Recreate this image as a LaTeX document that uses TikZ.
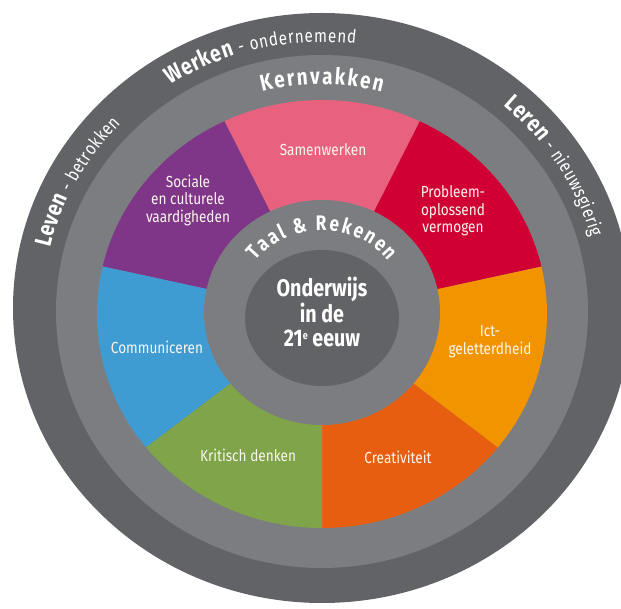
\documentclass[tikz,border=0pt]{standalone}
\usepackage{fontspec}
\setmainfont{Fira Sans}[FakeStretch=0.85]
\newfontfamily\ringfont{Fira Sans}[FakeStretch=0.82]
\newfontfamily\centerfont{Fira Sans}[FakeStretch=0.82]
\usetikzlibrary{calc}
\definecolor{ringdark}{HTML}{626366}
\definecolor{ringlight}{HTML}{7C7D80}
\definecolor{wpink}{HTML}{E8617F}
\definecolor{wred}{HTML}{D10034}
\definecolor{worange}{HTML}{F29400}
\definecolor{wdorange}{HTML}{E85E10}
\definecolor{wgreen}{HTML}{7FA449}
\definecolor{wblue}{HTML}{3F9CD2}
\definecolor{wpurple}{HTML}{7F3688}
\definecolor{lbltext}{HTML}{FBF6EE}
\newcommand\wedgefill[3]{\fill[#3, shift={(Cc)}] (0,0) -- (#1:225 and 214) arc[start angle=#1, end angle=#2, x radius=225, y radius=214] -- cycle;}
\newcommand\B{\ringfont\bfseries\fontsize{23.5}{23.5}\selectfont}
\newcommand\Sm{\ringfont\mdseries\fontsize{18.5}{18.5}\selectfont}
\newcommand\K{\ringfont\bfseries\fontsize{23}{23}\selectfont}
\newcommand\T{\ringfont\bfseries\fontsize{21}{21}\selectfont}
\newlength\arcw
\newcommand\measurechar[1]{\pgfinterruptpicture\settowidth{\arcw}{#1}\global\arcw=\arcw\endpgfinterruptpicture}
% #1 centre, #2 x radius, #3 y radius, #4 centre angle, #5 extra letter spacing, #6 list of characters
\newcommand\arctext[6]{%
  \gdef\arctotal{0}%
  \foreach \ch in {#6}{%
    \measurechar{\ch}%
    \pgfmathsetmacro\arctmp{\arctotal+\arcw+#5}%
    \xdef\arctotal{\arctmp}%
  }%
  \pgfmathsetmacro\arcr{(#2+#3)/2}%
  \xdef\arcrad{\arcr}%
  \gdef\arcpos{0}%
  \foreach \ch in {#6}{%
    \measurechar{\ch}%
    \pgfmathsetmacro\arcmid{\arcpos+(\arcw+#5)/2}%
    \pgfmathsetmacro\arcang{#4+(\arctotal/2-\arcmid)/\arcrad*180/pi}%
    \node[arcchar, rotate=\arcang-90] at ($(#1)+(\arcang:#2 and #3)$) {\ch};
    \pgfmathsetmacro\arctmp{\arcpos+\arcw+#5}%
    \xdef\arcpos{\arctmp}%
  }%
}
\tikzset{
  arcchar/.style={text=white, inner sep=0pt, anchor=base},
  lbl/.style={text=lbltext, font=\fontsize{16}{17.5}\selectfont, align=center, inner sep=0pt},
  centertext/.style={text=white, font=\centerfont\bfseries\fontsize{24}{24.5}\selectfont, align=center, inner sep=0pt}
}
\begin{document}
\begin{tikzpicture}[x=1pt,y=1pt]
\useasboundingbox (0,0) rectangle (621,608);
\fill[white] (0,0) rectangle (621,608);
\coordinate (Co) at (322,300);
\coordinate (Cl) at (322,296.5);
\coordinate (Cc) at (322,294);
\coordinate (Ci) at (322,295.5);
\coordinate (Cd) at (322,290);
% rings
\fill[ringdark] (Co) ellipse [x radius=309, y radius=295];
\fill[ringlight] (Cl) ellipse [x radius=266, y radius=256.5];
% wedges
\wedgefill{-90}{-38.571}{wdorange}
\wedgefill{-38.571}{12.857}{worange}
\wedgefill{12.857}{64.286}{wred}
\wedgefill{64.286}{115.714}{wpink}
\wedgefill{115.714}{167.143}{wpurple}
\wedgefill{167.143}{218.571}{wblue}
\wedgefill{218.571}{270}{wgreen}
% inner circles
\fill[ringlight] (Ci) ellipse [x radius=118, y radius=112.5];
\fill[ringdark] (Cd) ellipse [x radius=77, y radius=68];
% curved texts
\arctext{Co}{279}{266}{103}{0.6}{\B W,\B e,\B r,\B k,\B e,\B n,\Sm~,\Sm -,\Sm~,\Sm o,\Sm n,\Sm d,\Sm e,\Sm r,\Sm n,\Sm e,\Sm m,\Sm e,\Sm n,\Sm d}
\arctext{Co}{279}{266}{151.5}{0.6}{\B L,\B e,\B v,\B e,\B n,\Sm~,\Sm -,\Sm~,\Sm b,\Sm e,\Sm t,\Sm r,\Sm o,\Sm k,\Sm k,\Sm e,\Sm n}
\arctext{Co}{279}{266}{32.5}{0.6}{\B L,\B e,\B r,\B e,\B n,\Sm~,\Sm -,\Sm~,\Sm n,\Sm i,\Sm e,\Sm u,\Sm w,\Sm s,\Sm g,\Sm i,\Sm e,\Sm r,\Sm i,\Sm g}
\arctext{Cl}{236}{227}{90}{1.8}{\K K,\K e,\K r,\K n,\K v,\K a,\K k,\K k,\K e,\K n}
\arctext{Ci}{86}{82}{90}{2}{\T T,\T a,\T a,\T l,\T~,\T\&,\T~,\T R,\T e,\T k,\T e,\T n,\T e,\T n}
% centre
\node[centertext] (centre) at (322,296) {Onderwijs\\in de\\21\raisebox{7pt}{\fontsize{11}{11}\selectfont e} eeuw};
% wedge labels
\node[lbl] (samen) at (323,458) {Samenwerken};
\node[lbl] (sociaal) at (188,408) {Sociale\\en culturele\\vaardigheden};
\node[lbl] (probleem) at (453,397) {Probleem-\\oplossend\\vermogen};
\node[lbl] (ict) at (490,266.5) {Ict-\\geletterdheid};
\node[lbl] (comm) at (157,261) {Communiceren};
\node[lbl] (kritisch) at (248,153) {Kritisch denken};
\node[lbl] (creat) at (398,151) {Creativiteit};
\end{tikzpicture}
\end{document}
